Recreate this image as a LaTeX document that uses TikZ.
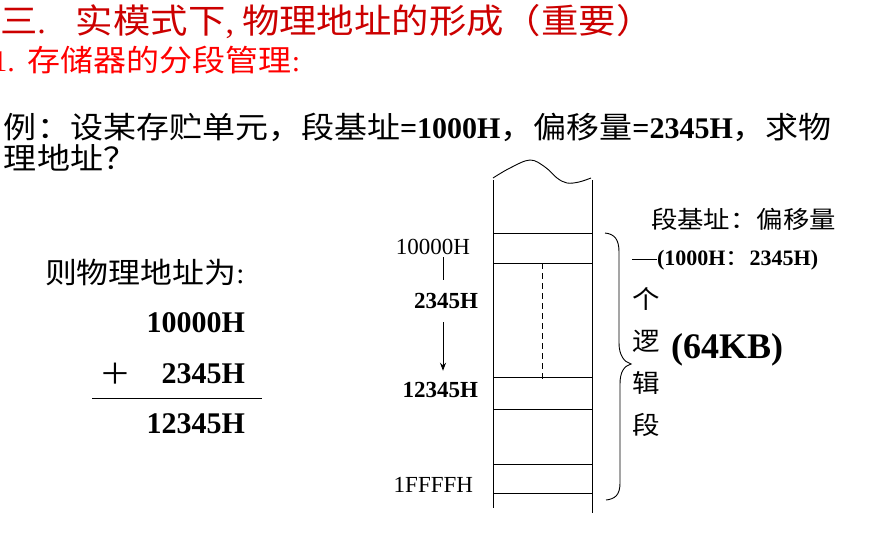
\documentclass[tikz,border=0pt]{standalone}
\usepackage{fontspec}
\setmainfont{Liberation Serif}
\newfontfamily\cjk[FakeStretch=1.1]{Noto Sans CJK SC}
\usetikzlibrary{arrows.meta}
\definecolor{titlered}{RGB}{204,0,0}
\definecolor{headred}{RGB}{255,0,0}

\begin{document}
\begin{tikzpicture}[x=1pt,y=-1pt,
  txt/.style={inner sep=0pt, outer sep=0pt, anchor=base west},
  rtxt/.style={inner sep=0pt, outer sep=0pt, anchor=base east},
  memline/.style={line width=0.9pt},
  conn/.style={line width=0.9pt},
  big/.style={font=\fontsize{30}{36}\selectfont},
  bigbold/.style={font=\fontsize{30}{36}\selectfont\bfseries},
  mid/.style={font=\fontsize{23}{28}\selectfont},
  midbold/.style={font=\fontsize{23}{28}\selectfont\bfseries},
]
\useasboundingbox (0,0) rectangle (874,556);
\clip (0,0) rectangle (874,556);
\fill[white] (0,0) rectangle (874,556);

% headings
\node[txt, text=titlered, font=\fontsize{34}{40}\selectfont] (title) at (0,34)
  {\cjk 三\rmfamily.\hspace{30pt}\cjk 实模式下\rmfamily,\hspace{8pt}\cjk 物理地址的形成（重要）};
\node[txt, text=headred, big] (sub) at (-7.7,72)
  {1.\hspace{13pt}\cjk 存储器的分段管理\rmfamily:};

% example question
\node[txt, big] (q1) at (4,139)
  {\cjk 例：设某存贮单元，段基址\rmfamily\bfseries =1000H\mdseries\cjk ，偏移量\rmfamily\bfseries =2345H\mdseries\cjk ，求物};
\node[txt, big] (q2) at (4,169) {\cjk 理地址？};

% worked addition
\node[txt, font=\fontsize{29}{34}\selectfont] (res) at (45,283) {\cjk 则物理地址为\rmfamily:};
\node[rtxt, bigbold] (addA) at (245,332) {10000H};
\node[inner sep=0pt, font=\fontsize{29}{34}\selectfont] (plus) at (115.5,374) {\cjk ＋};
\node[rtxt, bigbold] (addB) at (245,383) {2345H};
\node[rtxt, bigbold] (addC) at (245,433) {12345H};
\coordinate (sumL) at (92,398);
\coordinate (sumR) at (262,398);
\draw[conn] (sumL) -- (sumR);

% memory column
\draw[memline] (493,180) -- (493,508);
\draw[memline] (592,180) -- (592,513);
\foreach \yy in {233,263,377,409,464,493}
  \draw[memline] (493,\yy) -- (592,\yy);
\draw[memline, dash pattern=on 6pt off 4pt] (542,263) -- (542,379);
\draw[line width=0.9pt] plot[smooth, tension=0.6] coordinates
  {(493,178) (510,168) (530,160) (545,167) (557,178) (567,183) (579,182) (591,178)};

% address labels
\node[rtxt, mid] (lbase) at (470,254) {10000H};
\node[rtxt, midbold] (loff) at (478,308) {2345H};
\node[rtxt, midbold] (lsum) at (478,397) {12345H};
\node[rtxt, mid] (lend) at (473,492) {1FFFFH};
\coordinate (arrx) at (443,0);
\draw[conn, shorten <=3pt, shorten >=13pt] (arrx |- lbase.south) -- (arrx |- loff.north);
\draw[conn, -{Stealth[length=8pt,width=6pt]}, shorten <=14pt, shorten >=11pt]
  (arrx |- loff.south) -- (arrx |- lsum.north);

% segment brace
\draw[line width=0.9pt] (605,233) .. controls (615,234) and (619,240) .. (619,252)
  -- (619,343) .. controls (619,355) and (624,362) .. (631,364)
  .. controls (624,366) and (620,372) .. (620,384)
  -- (620,483) .. controls (620,495) and (615,499) .. (606,500);

% segment annotations
\node[txt, font=\fontsize{24}{28}\selectfont] (segaddr) at (651,228) {\cjk 段基址：偏移量};
\node[txt, font=\fontsize{22}{26}\selectfont\bfseries] (pair) at (657,265) {(1000H\mdseries\cjk ：\rmfamily\bfseries 2345H)};
\draw[conn] (pair.west) -- ++(-25,0);
\node[anchor=north west, inner sep=0pt, align=left, font=\fontsize{25}{42}\selectfont] (seg) at (632,287)
  {\cjk 个\\\cjk 逻\\\cjk 辑\\\cjk 段};
\node[txt, font=\fontsize{36}{40}\selectfont\bfseries] (size) at (671,358) {(64KB)};
\end{tikzpicture}
\end{document}
